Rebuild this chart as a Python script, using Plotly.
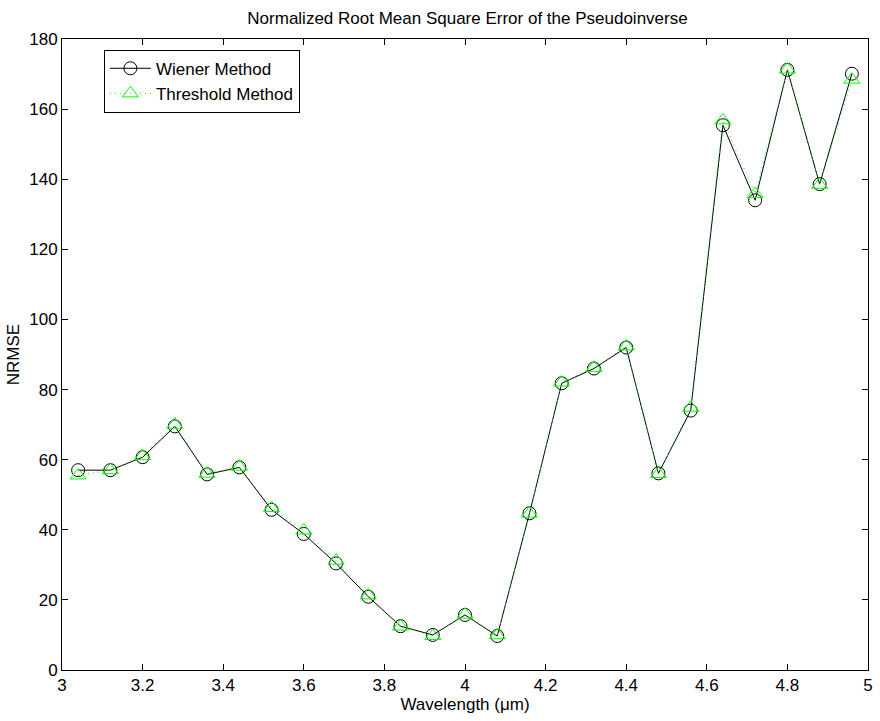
import plotly.graph_objects as go

# Wavelength samples (micrometres)
wavelength = [3.04, 3.12, 3.20, 3.28, 3.36, 3.44, 3.52, 3.60, 3.68, 3.76,
              3.84, 3.92, 4.00, 4.08, 4.16, 4.24, 4.32, 4.40, 4.48, 4.56,
              4.64, 4.72, 4.80, 4.88, 4.96]

# NRMSE of the pseudoinverse for each method
wiener_nrmse = [57.0, 57.0, 60.7, 69.5, 55.8, 57.8, 45.7, 38.8, 30.4, 20.9,
                12.5, 10.0, 15.7, 9.7, 44.7, 81.8, 86.0, 92.0, 56.1, 74.0,
                155.4, 134.0, 171.2, 138.6, 170.1]
threshold_nrmse = [55.5, 57.0, 61.0, 70.0, 56.0, 58.0, 46.2, 39.8, 31.2, 21.3,
                   12.4, 9.7, 15.8, 9.9, 44.6, 82.0, 86.2, 92.3, 55.9, 74.8,
                   156.8, 135.8, 171.3, 138.4, 168.4]

x_ticks = [3, 3.2, 3.4, 3.6, 3.8, 4, 4.2, 4.4, 4.6, 4.8, 5]
x_tick_text = ["3", "3.2", "3.4", "3.6", "3.8", "4", "4.2", "4.4", "4.6", "4.8", "5"]
y_ticks = [0, 20, 40, 60, 80, 100, 120, 140, 160, 180]

font_family = "Liberation Sans, Arial, sans-serif"
font_size = 17

fig = go.Figure()
fig.add_trace(go.Scatter(
    x=wavelength, y=wiener_nrmse, name="Wiener Method",
    mode="lines+markers",
    line=dict(color="black", width=1),
    marker=dict(symbol="circle-open", size=13, color="black", line=dict(width=1)),
))
fig.add_trace(go.Scatter(
    x=wavelength, y=threshold_nrmse, name="Threshold Method",
    mode="lines+markers",
    line=dict(color="#00ff00", width=1, dash="1px,4px"),
    marker=dict(symbol="triangle-up-open", size=14, color="#00ff00", line=dict(width=1)),
))

axis_common = dict(
    showgrid=False, zeroline=False,
    showline=True, linecolor="black", linewidth=1, mirror="ticks",
    ticks="inside", ticklen=6, tickcolor="black", tickwidth=1,
    tickfont=dict(family=font_family, size=font_size, color="black"),
)

fig.update_layout(
    width=880, height=721,
    margin=dict(l=62, r=7, t=39, b=51),
    paper_bgcolor="white", plot_bgcolor="white",
    title=dict(text="Normalized Root Mean Square Error of the Pseudoinverse",
               x=(62 + 873) / 2 / 880, xanchor="center", y=1 - 18 / 721, yanchor="middle",
               font=dict(family=font_family, size=font_size, color="black")),
    xaxis=dict(range=[3, 5], tickvals=x_ticks, ticktext=x_tick_text,
               title=dict(text="Wavelength (\u03bcm)", standoff=1,
                          font=dict(family=font_family, size=font_size, color="black")),
               **axis_common),
    yaxis=dict(range=[0, 180], tickvals=y_ticks,
               title=dict(text="NRMSE", standoff=5,
                          font=dict(family=font_family, size=font_size, color="black")),
               **axis_common),
    legend=dict(x=0.052, y=0.983, xanchor="left", yanchor="top",
                bordercolor="black", borderwidth=1, bgcolor="white",
                font=dict(family=font_family, size=font_size, color="black"),
                tracegroupgap=0, itemwidth=41),
    showlegend=True,
)

fig.write_html("out.html")
